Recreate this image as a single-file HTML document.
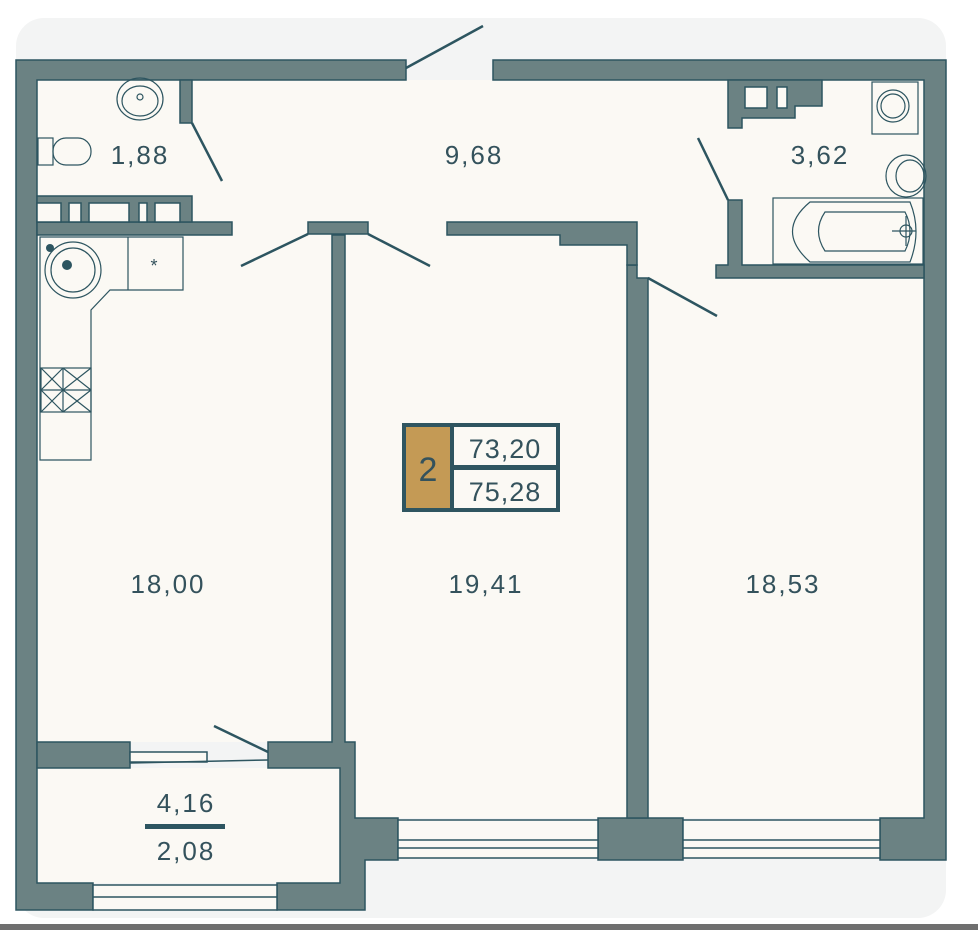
<!DOCTYPE html>
<html><head><meta charset="utf-8"><style>
html,body{margin:0;padding:0;background:#fff;}
svg{display:block}
text{font-family:"Liberation Sans",sans-serif;fill:#34525c}
</style></head><body>
<svg width="978" height="930" viewBox="0 0 978 930" xmlns="http://www.w3.org/2000/svg">
<rect x="16" y="18" width="930" height="900" rx="28" fill="#f3f4f4"/>
<rect x="0" y="924" width="978" height="6" fill="#6f6f6f"/>
<g fill="#fbf9f4">
<rect x="37" y="80" width="887" height="188"/>
<rect x="637" y="230" width="100" height="48"/>
<rect x="37" y="235" width="295" height="507"/>
<rect x="345" y="235" width="282" height="583"/>
<rect x="648" y="270" width="276" height="548"/>
<rect x="37" y="768" width="303" height="115"/>
</g>
<g fill="#6b8283" stroke="#2d5560" stroke-width="1.5">
<path d="M16 60 H406 V80 H37 V883 H93 V910 H16 Z"/>
<path d="M493 60 H946 V860 H880 V818 H924 V80 H493 Z"/>
<path d="M332 235 H345 V742 H355 V818 H398 V860 H365 V910 H277 V883 H340 V768 H268 V742 H332 Z"/>
<path d="M37 742 H130 V768 H37 Z"/>
<path d="M598 818 H683 V860 H598 Z"/>
<path d="M627 265 V818 H648 V278 H637 V265 Z"/>
<path d="M180 80 H192 V123 H180 Z"/>
<path d="M37 222 H232 V235 H37 Z"/>
<path d="M37 196 H192 V222 H37 Z"/>
<path d="M308 222 H368 V234 H308 Z"/>
<path d="M447 222 H637 V265 H627 V245 H560 V235 H447 Z"/>
<path d="M716 265 H728 V200 H742 V265 H924 V278 H716 Z"/>
<path d="M728 80 H822 V106 H795 V118 H742 V128 H728 Z"/>
</g>
<g fill="#fbf9f4" stroke="#2d5560" stroke-width="1.5">
<rect x="37" y="203" width="24" height="19"/><rect x="69" y="203" width="12" height="19"/><rect x="89" y="203" width="40" height="19"/><rect x="139" y="203" width="8" height="19"/><rect x="155" y="203" width="25" height="19"/>
<rect x="745" y="87" width="22" height="21"/><rect x="777" y="87" width="10" height="21"/>
<rect x="398" y="820" width="200" height="38"/><line x1="398" y1="840" x2="598" y2="840"/><line x1="398" y1="848" x2="598" y2="848"/>
<rect x="683" y="820" width="197" height="38"/><line x1="683" y1="840" x2="880" y2="840"/><line x1="683" y1="848" x2="880" y2="848"/>
<rect x="93" y="885" width="184" height="25"/><line x1="93" y1="897" x2="277" y2="897"/>
<rect x="130" y="752" width="77" height="10"/>
</g>
<g stroke="#2d5560" stroke-width="2.5" fill="none">
<line x1="406" y1="68" x2="483" y2="26"/>
<line x1="192" y1="123" x2="222" y2="181"/>
<line x1="308" y1="234" x2="241" y2="266"/>
<line x1="368" y1="234" x2="430" y2="266"/>
<line x1="728" y1="200" x2="698" y2="138"/>
<line x1="648" y1="278" x2="717" y2="316"/>
<line x1="268" y1="752" x2="214" y2="726"/>
<line x1="130" y1="763" x2="268" y2="760" stroke-width="1.5"/>
</g>
<g stroke="#2d5560" stroke-width="1.2" fill="none">
<ellipse cx="140" cy="99" rx="23" ry="21"/><ellipse cx="140" cy="101" rx="18" ry="15"/><circle cx="140" cy="97" r="3"/>
<rect x="38" y="138" width="15" height="27"/><rect x="53" y="138" width="38" height="27" rx="13"/>
<path d="M40 237 H183 V290 H110 L91 310 V460 H40 Z"/>
<line x1="128" y1="237" x2="128" y2="290"/>
<circle cx="73" cy="270" r="28"/><circle cx="73" cy="270" r="22"/>
<text x="154" y="272" font-size="18" text-anchor="middle" stroke="none">*</text>
<rect x="41" y="368" width="50" height="44"/><line x1="63" y1="368" x2="63" y2="412"/><line x1="41" y1="390" x2="91" y2="390"/>
<path d="M41 368 L63 390 M63 368 L41 390 M63 368 L91 390 M91 368 L63 390 M41 390 L63 412 M63 390 L41 412 M63 390 L91 412 M91 390 L63 412"/>
<rect x="872" y="82" width="46" height="52"/><circle cx="893" cy="106" r="16"/><circle cx="893" cy="106" r="12"/>
<ellipse cx="906" cy="176" rx="20" ry="21"/><ellipse cx="910" cy="176" rx="14" ry="16"/>
<rect x="773" y="198" width="150" height="66"/>
<path d="M810 202 H910 Q922 231 910 262 H810 Q775 231 810 202 Z"/>
<path d="M825 212 H905 Q915 231 905 251 H825 Q812 231 825 212 Z"/>
<circle cx="906" cy="231" r="6"/><line x1="892" y1="231" x2="916" y2="231"/><line x1="906" y1="216" x2="906" y2="246"/>
</g>
<circle cx="67" cy="265" r="5" fill="#2d5560"/><circle cx="50" cy="248" r="4" fill="#2d5560"/>
<g font-size="26" letter-spacing="2" text-anchor="middle">
<text x="140" y="164">1,88</text>
<text x="474" y="164">9,68</text>
<text x="820" y="164">3,62</text>
<text x="168" y="593">18,00</text>
<text x="486" y="593">19,41</text>
<text x="783" y="593">18,53</text>
<text x="186" y="812">4,16</text>
<text x="186" y="860">2,08</text>
</g>
<rect x="145" y="824" width="80" height="5" fill="#2d5560"/>
<rect x="402" y="423" width="158" height="89" fill="#2f5560"/>
<rect x="406" y="427" width="44" height="81" fill="#c49a55"/>
<rect x="454" y="427" width="102" height="38" fill="#fbf9f4"/>
<rect x="454" y="470" width="102" height="38" fill="#fbf9f4"/>
<text x="428" y="481" font-size="34" text-anchor="middle">2</text>
<text x="505" y="458" font-size="27" text-anchor="middle" letter-spacing="1">73,20</text>
<text x="505" y="501" font-size="27" text-anchor="middle" letter-spacing="1">75,28</text>
</svg>
</body></html>
